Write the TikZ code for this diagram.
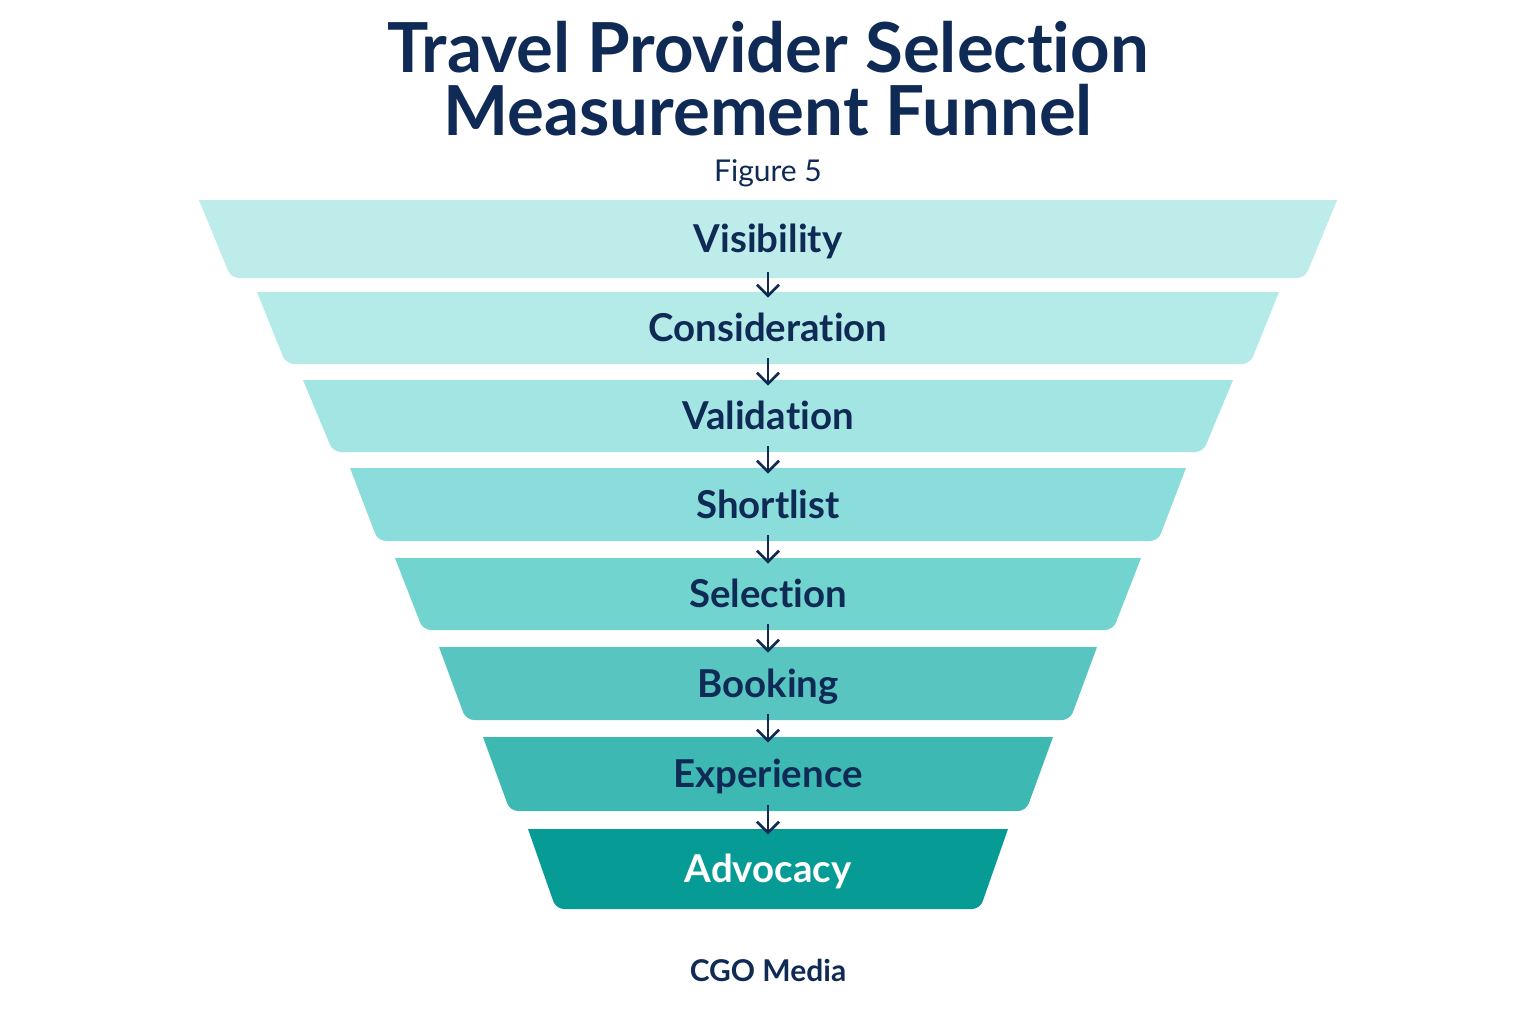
\documentclass[tikz,border=0pt]{standalone}
\usepackage{fontspec}
\setmainfont{Lato}[Ligatures = NoCommon]
\usetikzlibrary{arrows.meta}

\definecolor{navy}{HTML}{0F2A55}
\definecolor{stA}{HTML}{BDECEB}
\definecolor{stB}{HTML}{B4EAE8}
\definecolor{stC}{HTML}{A2E5E2}
\definecolor{stD}{HTML}{8ADDDA}
\definecolor{stE}{HTML}{72D4CF}
\definecolor{stF}{HTML}{58C5C0}
\definecolor{stG}{HTML}{3EB8B2}
\definecolor{stH}{HTML}{069B95}

\begin{document}
\begin{tikzpicture}[
             x               = 0.5pt,
             y               = -0.5pt,
             stage/.style    = {inner sep = 0, text height = 13.5pt, text depth = 0pt,
                                font = \fontsize{19.2}{21}\selectfont\bfseries},
             heading/.style  = {anchor = base, text = navy,
                                font = \fontsize{34.5}{38}\selectfont\bfseries},
             flow/.style     = {navy, line width = 1.35pt,
                                -{Straight Barb[length = 5.5pt, width = 11pt]}}]
             \useasboundingbox (0,0) rectangle (1536,1024);
             \fill [white] (0,0) rectangle (1536,1024);
             \node [heading] (title1) at (768,72)  {Travel Provider Selection};
             \node [heading] (title2) at (768,135) {Measurement Funnel};
             \node [anchor = base, text = navy, font = \fontsize{15}{17}\selectfont]
                   (fig) at (768,181) {Figure 5};
             \foreach \name/\label/\top/\bot/\tw/\bw/\col/\txt in
                   {vis/Visibility/200/278/569/537/stA/navy,
                    con/Consideration/292/364/511/482/stB/navy,
                    val/Validation/380/452/465/435/stC/navy,
                    sho/Shortlist/468/541/418/390/stD/navy,
                    sel/Selection/558/630/373/345/stE/navy,
                    boo/Booking/647/720/329/302/stF/navy,
                    exp/Experience/737/811/285/258/stG/navy,
                    adv/Advocacy/829/909/240/212/stH/white}
                   {
                   \fill [\col] ({768-\tw},\top) [rounded corners = 4pt]
                         -- ({768-\bw},\bot) -- ({768+\bw},\bot) [sharp corners]
                         -- ({768+\tw},\top) -- cycle;
                   \node [stage, text = \txt, minimum height = {(\bot-\top)*0.5pt}]
                         (\name) at (768,{(\top+\bot)/2}) {\label};
                   }
             \foreach \a/\b in {vis/con,con/val,val/sho,sho/sel,sel/boo,boo/exp,exp/adv}
                   \draw [flow] ([yshift = 3pt]\a.south) -- ([yshift = -3pt]\b.north);
             \node [anchor = base, text = navy, font = \fontsize{15}{17}\selectfont\bfseries]
                   (org) at (768,981) {CGO Media};
\end{tikzpicture}
\end{document}
